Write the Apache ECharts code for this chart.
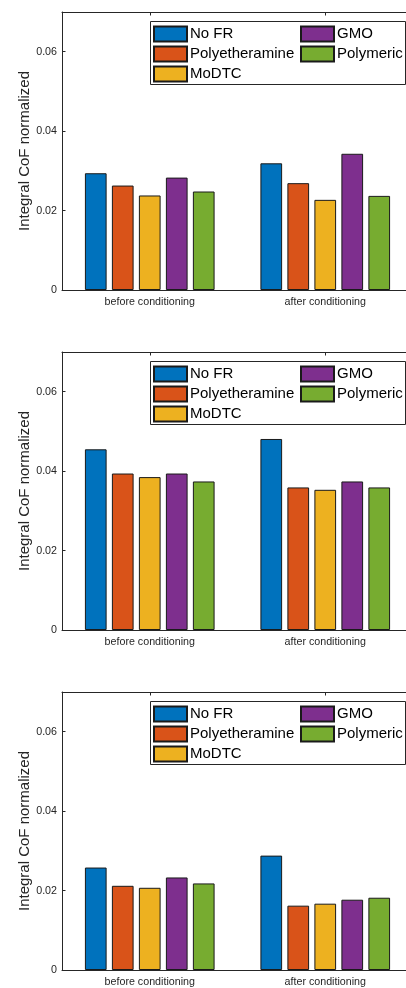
<!DOCTYPE html>
<html>
<head>
<meta charset="utf-8">
<script src="https://cdn.jsdelivr.net/npm/echarts@6/dist/echarts.min.js"></script>
<style>
  html, body { margin: 0; padding: 0; background: #fff; overflow: hidden; }
  #chart { width: 420px; height: 988px; }
</style>
</head>
<body>
<div id="chart"></div>
<script>
// Categories along the x axis
const categories = ['before conditioning', 'after conditioning'];
// Friction-reducer additives (one bar per additive in each category)
const additives = ['No FR', 'Polyetheramine', 'MoDTC', 'GMO', 'Polymeric'];
const additiveColors = ['#0072BD', '#D95319', '#EDB120', '#7E2F8E', '#77AC30'];

// Integral CoF normalized, in additive order
const panel1Before = [0.0294, 0.0263, 0.0238, 0.0283, 0.0248];
const panel1After  = [0.0319, 0.0269, 0.0227, 0.0343, 0.0237];
const panel2Before = [0.0455, 0.0394, 0.0385, 0.0394, 0.0374];
const panel2After  = [0.0481, 0.0359, 0.0353, 0.0374, 0.0359];
const panel3Before = [0.0258, 0.0212, 0.0207, 0.0233, 0.0218];
const panel3After  = [0.0288, 0.0162, 0.0167, 0.0177, 0.0182];

// y-axis ticks
const yTickValues = [0, 0.02, 0.04, 0.06];
const yMax = 0.07;
const yAxisTitle = 'Integral CoF normalized';

const panels = [
  { before: panel1Before, after: panel1After },
  { before: panel2Before, after: panel2After },
  { before: panel3Before, after: panel3After }
];

const FONT = 'Liberation Sans, Arial, Helvetica, sans-serif';
const AXIS_COLOR = '#262626';
const panelOffsets = [0, 340, 680];
const plotTop = 12, plotHeight = 278, plotLeft = 62, plotWidth = 351;

const grid = [], xAxis = [], yAxis = [], series = [], legend = [], graphic = [];

panels.forEach((panel, p) => {
  const off = panelOffsets[p];
  grid.push({ left: plotLeft, top: off + plotTop, width: plotWidth, height: plotHeight, containLabel: false });

  // bottom category axis
  xAxis.push({
    type: 'category', gridIndex: p, data: categories, position: 'bottom',
    axisLine: { show: true, lineStyle: { color: AXIS_COLOR, width: 1 } },
    axisTick: { show: true, inside: true, alignWithLabel: true, length: 3.5, lineStyle: { color: AXIS_COLOR } },
    axisLabel: { show: true, margin: 7, color: AXIS_COLOR, fontFamily: FONT, fontSize: 10.7 },
    splitLine: { show: false }
  });
  // top frame axis
  xAxis.push({
    type: 'category', gridIndex: p, data: categories, position: 'top',
    axisLine: { show: true, lineStyle: { color: AXIS_COLOR, width: 1 } },
    axisTick: { show: true, inside: true, alignWithLabel: true, length: 3.5, lineStyle: { color: AXIS_COLOR } },
    axisLabel: { show: false },
    splitLine: { show: false }
  });

  yAxis.push({
    type: 'value', gridIndex: p, min: 0, max: yMax, interval: 0.02,
    name: yAxisTitle, nameLocation: 'middle', nameGap: 30, nameMoveOverlap: false,
    nameTextStyle: { fontFamily: FONT, fontSize: 15, color: AXIS_COLOR },
    axisLine: { show: true, lineStyle: { color: AXIS_COLOR, width: 1 } },
    axisTick: { show: true, inside: true, length: 3.5, customValues: yTickValues, lineStyle: { color: AXIS_COLOR } },
    axisLabel: {
      show: true, margin: 5, color: AXIS_COLOR, fontFamily: FONT, fontSize: 10.7,
      customValues: yTickValues,
      formatter: v => (v === 0 ? '0' : v.toFixed(2))
    },
    splitLine: { show: false }
  });

  additives.forEach((name, k) => {
    series.push({
      type: 'bar', name: name,
      xAxisIndex: p * 2, yAxisIndex: p,
      data: [panel.before[k], panel.after[k]],
      barWidth: 21.7, barGap: '24.4%',
      itemStyle: { color: additiveColors[k], borderColor: '#1a1a1a', borderWidth: 1 },
      emphasis: { disabled: true },
      animation: false
    });
  });

  // legend frame
  graphic.push({
    type: 'rect', z: 1, silent: true,
    shape: { x: 150.5, y: off + 21.5, width: 255, height: 63 },
    style: { fill: '#fff', stroke: AXIS_COLOR, lineWidth: 1 }
  });

  const legendCommon = {
    orient: 'vertical', top: off + 25.5, padding: 0,
    itemWidth: 33, itemHeight: 15, itemGap: 3,
    icon: 'rect', z: 10, selectedMode: false,
    textStyle: { fontFamily: FONT, fontSize: 15, color: '#000', padding: [0, 0, 0, -2] }
  };
  legend.push(Object.assign({}, legendCommon, { left: 153, data: additives.slice(0, 3) }));
  legend.push(Object.assign({}, legendCommon, { left: 300, data: additives.slice(3) }));
});

const chart = echarts.init(document.getElementById('chart'), null, { renderer: 'canvas' });
chart.setOption({
  backgroundColor: '#fff',
  animation: false,
  grid, xAxis, yAxis, series, legend, graphic
});
</script>
</body>
</html>
